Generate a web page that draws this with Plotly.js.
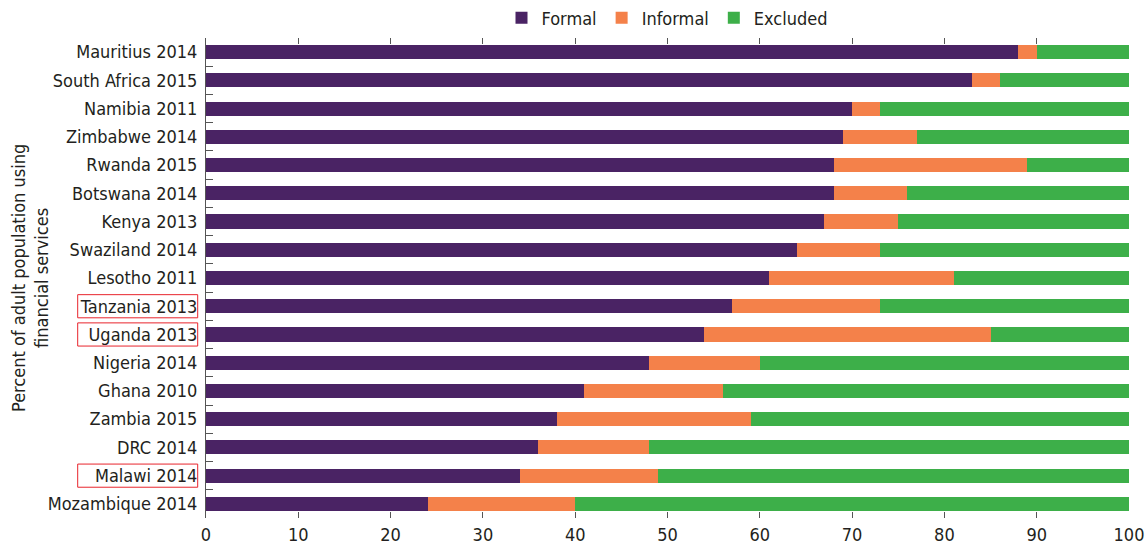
<!DOCTYPE html>
<html>
<head>
<meta charset="utf-8">
<script src="https://cdn.plot.ly/plotly-3.0.1.min.js"></script>
<style>html,body{margin:0;padding:0;background:#fff;}#chart{width:1147px;height:549px;}</style>
</head>
<body>
<div id="chart"></div>
<script>
const countries = ["Mauritius 2014","South Africa 2015","Namibia 2011","Zimbabwe 2014","Rwanda 2015","Botswana 2014","Kenya 2013","Swaziland 2014","Lesotho 2011","Tanzania 2013","Uganda 2013","Nigeria 2014","Ghana 2010","Zambia 2015","DRC 2014","Malawi 2014","Mozambique 2014"];
const formal   = [88,83,70,69,68,68,67,64,61,57,54,48,41,38,36,34,24];
const informal = [2,3,3,8,21,8,8,9,20,16,31,12,15,21,12,15,16];
const excluded = [10,14,27,23,11,24,25,27,19,27,15,40,44,41,52,51,60];
const highlighted = ["Tanzania 2013","Uganda 2013","Malawi 2014"];
const xTicks = [0,10,20,30,40,50,60,70,80,90,100];
const yTitle = 'Percent of adult population using<br>financial services';

const FONT = '"Liberation Sans Narrow", "DejaVu Sans Condensed", "Liberation Sans", sans-serif';
const TXT = '#231f20';
const FS = 18;

const mk = (name, vals, color) => ({
  type: 'bar', orientation: 'h', name: name, x: vals, y: countries,
  marker: {color: color, line: {width: 0}}, hoverinfo: 'x+y+name'
});

const data = [
  mk('Formal', formal, '#4a2364'),
  mk('Informal', informal, '#f4814a'),
  mk('Excluded', excluded, '#3daf49')
];

const shapes = highlighted.map(c => ({
  type: 'rect', xref: 'paper', yref: 'y',
  x0: -0.139, x1: -0.009,
  y0: countries.indexOf(c) - 0.41, y1: countries.indexOf(c) + 0.41,
  line: {color: '#e8242c', width: 1}, fillcolor: 'rgba(0,0,0,0)'
}));

const layout = {
  width: 1147, height: 549,
  margin: {l: 206, r: 18, t: 38, b: 31, autoexpand: false},
  barmode: 'stack', bargap: 0.5,
  paper_bgcolor: '#fff', plot_bgcolor: '#fff',
  font: {family: FONT, size: FS, color: TXT},
  showlegend: true,
  legend: {orientation: 'h', x: 0.5, xanchor: 'center', y: 1.0417, yanchor: 'middle',
           font: {family: FONT, size: FS, color: TXT}, traceorder: 'normal'},
  xaxis: {
    range: [0, 100], tickvals: xTicks, ticktext: xTicks.map(String),
    ticks: 'inside', ticklen: 6, tickcolor: '#555', tickwidth: 1,
    mirror: 'ticks', showline: false, showgrid: false, zeroline: false,
    tickfont: {family: FONT, size: FS, color: TXT}, fixedrange: true,
    ticklabelstandoff: 4
  },
  yaxis: {
    categoryorder: 'array', categoryarray: countries, autorange: 'reversed',
    ticks: 'inside', tickson: 'boundaries', ticklen: 7, tickcolor: '#555',
    showline: true, linecolor: '#555', linewidth: 1,
    showgrid: false, zeroline: false,
    tickfont: {family: FONT, size: FS, color: TXT},
    ticklabelstandoff: 4
  },
  annotations: [{
    xref: 'paper', yref: 'paper', x: -0.1907, y: 0.5, xanchor: 'center', yanchor: 'middle',
    text: yTitle, textangle: -90, showarrow: false,
    font: {family: FONT, size: FS, color: TXT}
  }],
  shapes: shapes
};

Plotly.newPlot('chart', data, layout, {displayModeBar: false, staticPlot: true});
</script>
</body>
</html>
